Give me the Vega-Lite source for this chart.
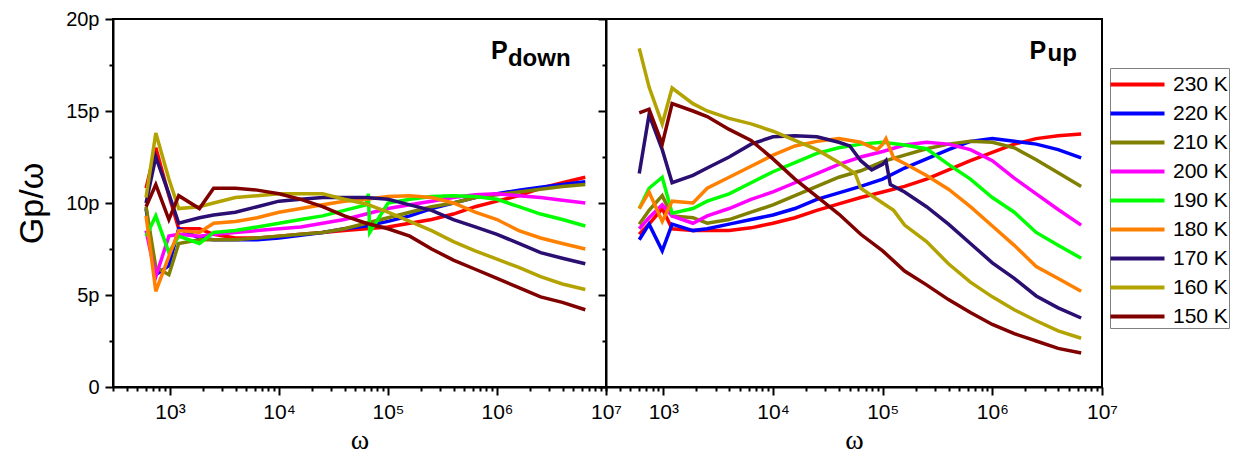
{
  "$schema": "https://vega.github.io/schema/vega-lite/v6.json",
  "background": "white",
  "padding": {"left": 14, "top": 8, "right": 0, "bottom": 0},
  "spacing": 0,
  "bounds": "flush",
  "resolve": {"scale": {"y": "shared", "color": "shared"}},
  "config": {
    "font": "Liberation Sans",
    "view": {"stroke": "black", "strokeWidth": 2},
    "axis": {"domainColor": "black", "domainWidth": 2, "tickColor": "black", "tickWidth": 2, "labelColor": "black", "titleColor": "black", "grid": false, "labelFont": "Liberation Sans", "labelOverlap": false, "labelBound": false, "labelFlush": false},
    "legend": {"labelFont": "Liberation Sans"}
  },
  "datasets": {
    "gp": [
      {"p":"d","w":603,"230 K":10.8,"220 K":9.7,"210 K":9.8,"200 K":8.5,"190 K":8.2,"180 K":9.3,"170 K":10.0,"160 K":10.3,"150 K":9.8},
      {"p":"d","w":741,"230 K":13.0,"220 K":6.1,"210 K":6.5,"200 K":6.0,"190 K":9.3,"180 K":5.2,"170 K":12.5,"160 K":13.8,"150 K":11.0},
      {"p":"d","w":977,"230 K":10.4,"220 K":6.6,"210 K":6.1,"200 K":8.2,"190 K":7.3,"180 K":7.1,"170 K":10.5,"160 K":11.3,"150 K":9.1},
      {"p":"d","w":1202,"230 K":8.6,"220 K":8.6,"210 K":7.8,"200 K":8.3,"190 K":8.2,"180 K":8.5,"170 K":8.9,"160 K":9.7,"150 K":10.4},
      {"p":"d","w":1862,"230 K":8.6,"220 K":8.1,"210 K":8.0,"200 K":8.2,"190 K":7.8,"180 K":8.4,"170 K":9.2,"160 K":9.8,"150 K":9.7},
      {"p":"d","w":2512,"230 K":8.3,"220 K":8.0,"210 K":8.0,"200 K":8.3,"190 K":8.4,"180 K":8.9,"170 K":9.35,"160 K":10.0,"150 K":10.8},
      {"p":"d","w":3981,"230 K":8.1,"220 K":8.0,"210 K":8.0,"200 K":8.4,"190 K":8.5,"180 K":9.0,"170 K":9.5,"160 K":10.3,"150 K":10.8},
      {"p":"d","w":6310,"230 K":8.1,"220 K":8.0,"210 K":8.1,"200 K":8.5,"190 K":8.7,"180 K":9.2,"170 K":9.8,"160 K":10.4,"150 K":10.7},
      {"p":"d","w":10000,"230 K":8.2,"220 K":8.1,"210 K":8.2,"200 K":8.6,"190 K":8.9,"180 K":9.5,"170 K":10.1,"160 K":10.5,"150 K":10.5},
      {"p":"d","w":15849,"230 K":8.3,"220 K":8.25,"210 K":8.3,"200 K":8.7,"190 K":9.1,"180 K":9.7,"170 K":10.2,"160 K":10.5,"150 K":10.2},
      {"p":"d","w":25119,"230 K":8.4,"220 K":8.4,"210 K":8.4,"200 K":8.9,"190 K":9.3,"180 K":9.9,"170 K":10.3,"160 K":10.5,"150 K":9.8},
      {"p":"d","w":39811,"230 K":8.5,"220 K":8.6,"210 K":8.6,"200 K":9.1,"190 K":9.6,"180 K":10.1,"170 K":10.3,"160 K":10.2,"150 K":9.3},
      {"p":"d","w":63096,"230 K":8.6,"220 K":8.75,"210 K":8.9,"200 K":9.4,"190 K":9.9,"180 K":10.2,"170 K":10.3,"160 K":9.95,"150 K":8.9},
      {"p":"d","w":100000,"230 K":8.7,"220 K":9.0,"210 K":9.2,"200 K":9.7,"190 K":10.0,"180 K":10.35,"170 K":10.2,"160 K":9.5,"150 K":8.6},
      {"p":"d","w":158489,"230 K":8.9,"220 K":9.3,"210 K":9.5,"200 K":9.9,"190 K":10.2,"180 K":10.4,"170 K":9.9,"160 K":9.0,"150 K":8.2},
      {"p":"d","w":251189,"230 K":9.1,"220 K":9.7,"210 K":9.8,"200 K":10.1,"190 K":10.35,"180 K":10.3,"170 K":9.6,"160 K":8.5,"150 K":7.5},
      {"p":"d","w":398107,"230 K":9.4,"220 K":10.0,"210 K":10.0,"200 K":10.3,"190 K":10.4,"180 K":10.0,"170 K":9.1,"160 K":7.9,"150 K":6.9},
      {"p":"d","w":630957,"230 K":9.8,"220 K":10.3,"210 K":10.3,"200 K":10.45,"190 K":10.35,"180 K":9.5,"170 K":8.7,"160 K":7.4,"150 K":6.4},
      {"p":"d","w":1000000,"230 K":10.1,"220 K":10.5,"210 K":10.45,"200 K":10.5,"190 K":10.2,"180 K":9.1,"170 K":8.3,"160 K":6.95,"150 K":5.9},
      {"p":"d","w":1584893,"230 K":10.4,"220 K":10.7,"210 K":10.6,"200 K":10.4,"190 K":9.8,"180 K":8.5,"170 K":7.8,"160 K":6.5,"150 K":5.4},
      {"p":"d","w":2511886,"230 K":10.8,"220 K":10.85,"210 K":10.75,"200 K":10.3,"190 K":9.4,"180 K":8.1,"170 K":7.3,"160 K":6.0,"150 K":4.9},
      {"p":"d","w":3981072,"230 K":11.1,"220 K":11.0,"210 K":10.9,"200 K":10.15,"190 K":9.1,"180 K":7.8,"170 K":7.0,"160 K":5.6,"150 K":4.6},
      {"p":"d","w":6456542,"230 K":11.4,"220 K":11.15,"210 K":11.0,"200 K":10.0,"190 K":8.75,"180 K":7.5,"170 K":6.7,"160 K":5.3,"150 K":4.2},
      {"p":"d","w":66000,"190 K":10.5},
      {"p":"d","w":68000,"190 K":8.4},
      {"p":"u","w":603,"230 K":8.3,"220 K":8.0,"210 K":8.85,"200 K":8.6,"190 K":9.7,"180 K":9.7,"170 K":11.6,"160 K":18.4,"150 K":14.9},
      {"p":"u","w":741,"230 K":8.85,"220 K":8.85,"210 K":9.6,"200 K":9.2,"190 K":10.8,"180 K":10.6,"170 K":14.8,"160 K":16.3,"150 K":15.1},
      {"p":"u","w":977,"230 K":9.7,"220 K":7.4,"210 K":10.4,"200 K":9.9,"190 K":11.4,"180 K":9.0,"170 K":12.9,"160 K":14.3,"150 K":13.2},
      {"p":"u","w":1202,"230 K":8.6,"220 K":8.85,"210 K":9.3,"200 K":9.3,"190 K":9.45,"180 K":10.1,"170 K":11.1,"160 K":16.25,"150 K":15.4},
      {"p":"u","w":1862,"230 K":8.5,"220 K":8.5,"210 K":9.2,"200 K":8.9,"190 K":9.7,"180 K":10.0,"170 K":11.5,"160 K":15.4,"150 K":15.0},
      {"p":"u","w":2512,"230 K":8.5,"220 K":8.6,"210 K":8.9,"200 K":9.3,"190 K":10.1,"180 K":10.8,"170 K":11.9,"160 K":15.0,"150 K":14.7},
      {"p":"u","w":3981,"230 K":8.5,"220 K":8.85,"210 K":9.1,"200 K":9.7,"190 K":10.5,"180 K":11.4,"170 K":12.5,"160 K":14.6,"150 K":14.0},
      {"p":"u","w":6310,"230 K":8.65,"220 K":9.1,"210 K":9.5,"200 K":10.2,"190 K":11.1,"180 K":12.0,"170 K":13.2,"160 K":14.3,"150 K":13.4},
      {"p":"u","w":10000,"230 K":8.9,"220 K":9.35,"210 K":9.9,"200 K":10.6,"190 K":11.7,"180 K":12.6,"170 K":13.6,"160 K":13.9,"150 K":12.4},
      {"p":"u","w":15849,"230 K":9.2,"220 K":9.7,"210 K":10.4,"200 K":11.1,"190 K":12.2,"180 K":13.1,"170 K":13.65,"160 K":13.4,"150 K":11.3},
      {"p":"u","w":25119,"230 K":9.6,"220 K":10.2,"210 K":10.9,"200 K":11.6,"190 K":12.7,"180 K":13.35,"170 K":13.6,"160 K":12.9,"150 K":10.35},
      {"p":"u","w":39811,"230 K":9.95,"220 K":10.55,"210 K":11.4,"200 K":12.1,"190 K":13.0,"180 K":13.5,"170 K":13.3,"160 K":12.2,"150 K":9.4},
      {"p":"u","w":63096,"230 K":10.3,"220 K":10.9,"210 K":11.75,"200 K":12.5,"190 K":13.2,"180 K":13.3,"170 K":12.3,"160 K":10.8,"150 K":8.3},
      {"p":"u","w":100000,"230 K":10.6,"220 K":11.3,"210 K":12.25,"200 K":12.8,"190 K":13.3,"180 K":13.2,"170 K":12.1,"160 K":10.0,"150 K":7.4},
      {"p":"u","w":158489,"230 K":10.9,"220 K":11.9,"210 K":12.6,"200 K":13.15,"190 K":13.15,"180 K":12.15,"170 K":10.6,"160 K":8.8,"150 K":6.3},
      {"p":"u","w":251189,"230 K":11.3,"220 K":12.4,"210 K":12.95,"200 K":13.3,"190 K":12.95,"180 K":11.5,"170 K":9.8,"160 K":7.9,"150 K":5.55},
      {"p":"u","w":398107,"230 K":11.8,"220 K":12.9,"210 K":13.2,"200 K":13.2,"190 K":12.1,"180 K":10.75,"170 K":8.85,"160 K":6.7,"150 K":4.75},
      {"p":"u","w":630957,"230 K":12.3,"220 K":13.35,"210 K":13.35,"200 K":12.9,"190 K":11.3,"180 K":9.8,"170 K":7.8,"160 K":5.7,"150 K":4.05},
      {"p":"u","w":1000000,"230 K":12.75,"220 K":13.5,"210 K":13.3,"200 K":12.3,"190 K":10.3,"180 K":8.75,"170 K":6.75,"160 K":4.9,"150 K":3.4},
      {"p":"u","w":1584893,"230 K":13.2,"220 K":13.35,"210 K":13.0,"200 K":11.35,"190 K":9.5,"180 K":7.7,"170 K":5.9,"160 K":4.2,"150 K":2.9},
      {"p":"u","w":2511886,"230 K":13.5,"220 K":13.2,"210 K":12.35,"200 K":10.5,"190 K":8.4,"180 K":6.55,"170 K":4.95,"160 K":3.6,"150 K":2.5},
      {"p":"u","w":3981072,"230 K":13.65,"220 K":12.9,"210 K":11.65,"200 K":9.65,"190 K":7.7,"180 K":5.9,"170 K":4.3,"160 K":3.05,"150 K":2.1},
      {"p":"u","w":6456542,"230 K":13.75,"220 K":12.45,"210 K":10.9,"200 K":8.8,"190 K":7.0,"180 K":5.2,"170 K":3.75,"160 K":2.65,"150 K":1.85},
      {"p":"u","w":50119,"170 K":13.1},
      {"p":"u","w":79433,"170 K":11.8},
      {"p":"u","w":107152,"170 K":12.3,"180 K":13.5},
      {"p":"u","w":117490,"170 K":11.0},
      {"p":"u","w":89125,"180 K":12.9},
      {"p":"u","w":125893,"180 K":12.45,"160 K":9.6},
      {"p":"u","w":56234,"160 K":11.6}
    ]
  },
  "hconcat": [
    {
      "width": 493,
      "height": 368,
      "layer": [
        {
          "data": {"name": "gp"},
          "transform": [
            {"filter": "datum.p == 'd'"},
            {"fold": ["230 K","220 K","210 K","200 K","190 K","180 K","170 K","160 K","150 K"], "as": ["T","g"]},
            {"filter": "isValid(datum.g)"}
          ],
          "mark": {"type": "line", "strokeWidth": 3.5, "clip": true},
          "encoding": {
            "x": {"field": "w", "type": "quantitative", "title": "ω",
              "scale": {"type": "log", "domain": [300, 10000000]},
              "axis": {
                "values": [300,400,500,600,700,800,900,1000,2000,3000,4000,5000,6000,7000,8000,9000,10000,20000,30000,40000,50000,60000,70000,80000,90000,100000,200000,300000,400000,500000,600000,700000,800000,900000,1000000,2000000,3000000,4000000,5000000,6000000,7000000,8000000,9000000,10000000],
                "labelExpr": "abs(log(datum.value)/LN10 - round(log(datum.value)/LN10)) < 0.001 ? '10' + ['⁰','¹','²','³','⁴','⁵','⁶','⁷'][round(log(datum.value)/LN10)] : ''",
                "tickSize": {"condition": {"test": "abs(log(datum.value)/LN10 - round(log(datum.value)/LN10)) < 0.001", "value": 8}, "value": 4},
                "labelFontSize": 21, "labelPadding": 6,
                "titleFont": "Liberation Serif", "titleFontSize": 28, "titleFontWeight": "normal", "titlePadding": 4
              }
            },
            "y": {"field": "g", "type": "quantitative", "title": "Gp/ω",
              "scale": {"domain": [0, 20]},
              "axis": {
                "values": [0,2.5,5,7.5,10,12.5,15,17.5,20],
                "labelExpr": "datum.value % 5 == 0 ? (datum.value == 0 ? '0' : datum.value + 'p') : ''",
                "tickSize": {"condition": {"test": "datum.value % 5 == 0", "value": 8}, "value": 4},
                "labelFontSize": 20, "labelPadding": 6,
                "titleFontSize": 34, "titleFontWeight": "normal", "titlePadding": 16
              }
            },
            "color": {"field": "T", "type": "nominal",
              "scale": {"domain": ["230 K","220 K","210 K","200 K","190 K","180 K","170 K","160 K","150 K"],
                "range": ["#ff0000","#0000ff","#808000","#ff00ff","#00ff00","#ff8000","#2a0e72","#b3a300","#800000"]},
              "legend": {"orient": "none", "legendX": 997, "legendY": 49, "title": null, "symbolType": "M-2,0H2", "symbolStrokeWidth": 4, "symbolSize": 729, "symbolOffset": 11, "labelOffset": 20, "labelFontSize": 21, "strokeColor": "#808080", "padding": 1, "rowPadding": 3}
            }
          }
        },
        {
          "data": {"values": [{"w": 883000, "g": 17.83, "t": "P"}]},
          "mark": {"type": "text", "align": "left", "baseline": "alphabetic", "fontSize": 25, "fontWeight": "bold", "color": "black"},
          "encoding": {
            "x": {"field": "w", "type": "quantitative", "scale": {"type": "log", "domain": [300, 10000000]}},
            "y": {"field": "g", "type": "quantitative", "scale": {"domain": [0, 20]}},
            "text": {"field": "t"}
          }
        },
        {
          "data": {"values": [{"w": 1260000, "g": 17.45, "t": "down"}]},
          "mark": {"type": "text", "align": "left", "baseline": "alphabetic", "fontSize": 24, "fontWeight": "bold", "color": "black"},
          "encoding": {
            "x": {"field": "w", "type": "quantitative", "scale": {"type": "log", "domain": [300, 10000000]}},
            "y": {"field": "g", "type": "quantitative", "scale": {"domain": [0, 20]}},
            "text": {"field": "t"}
          }
        }
      ]
    },
    {
      "width": 496,
      "height": 368,
      "layer": [
        {
          "data": {"name": "gp"},
          "transform": [
            {"filter": "datum.p == 'u'"},
            {"fold": ["230 K","220 K","210 K","200 K","190 K","180 K","170 K","160 K","150 K"], "as": ["T","g"]},
            {"filter": "isValid(datum.g)"}
          ],
          "mark": {"type": "line", "strokeWidth": 3.5, "clip": true},
          "encoding": {
            "x": {"field": "w", "type": "quantitative", "title": "ω",
              "scale": {"type": "log", "domain": [300, 10000000]},
              "axis": {
                "values": [300,400,500,600,700,800,900,1000,2000,3000,4000,5000,6000,7000,8000,9000,10000,20000,30000,40000,50000,60000,70000,80000,90000,100000,200000,300000,400000,500000,600000,700000,800000,900000,1000000,2000000,3000000,4000000,5000000,6000000,7000000,8000000,9000000,10000000],
                "labelExpr": "abs(log(datum.value)/LN10 - round(log(datum.value)/LN10)) < 0.001 ? '10' + ['⁰','¹','²','³','⁴','⁵','⁶','⁷'][round(log(datum.value)/LN10)] : ''",
                "tickSize": {"condition": {"test": "abs(log(datum.value)/LN10 - round(log(datum.value)/LN10)) < 0.001", "value": 8}, "value": 4},
                "labelFontSize": 21, "labelPadding": 6,
                "titleFont": "Liberation Serif", "titleFontSize": 28, "titleFontWeight": "normal", "titlePadding": 4
              }
            },
            "y": {"field": "g", "type": "quantitative", "title": null,
              "scale": {"domain": [0, 20]},
              "axis": {
                "values": [0,2.5,5,7.5,10,12.5,15,17.5,20],
                "labels": false,
                "tickSize": {"condition": {"test": "datum.value % 5 == 0", "value": 8}, "value": 4}
              }
            },
            "color": {"field": "T", "type": "nominal",
              "scale": {"domain": ["230 K","220 K","210 K","200 K","190 K","180 K","170 K","160 K","150 K"],
                "range": ["#ff0000","#0000ff","#808000","#ff00ff","#00ff00","#ff8000","#2a0e72","#b3a300","#800000"]},
              "legend": {"orient": "none", "legendX": 997, "legendY": 49, "title": null, "symbolType": "M-2,0H2", "symbolStrokeWidth": 4, "symbolSize": 729, "symbolOffset": 11, "labelOffset": 20, "labelFontSize": 21, "strokeColor": "#808080", "padding": 1, "rowPadding": 3}
            }
          }
        },
        {
          "data": {"values": [{"w": 2180000, "g": 17.83, "t": "P"}]},
          "mark": {"type": "text", "align": "left", "baseline": "alphabetic", "fontSize": 25, "fontWeight": "bold", "color": "black"},
          "encoding": {
            "x": {"field": "w", "type": "quantitative", "scale": {"type": "log", "domain": [300, 10000000]}},
            "y": {"field": "g", "type": "quantitative", "scale": {"domain": [0, 20]}},
            "text": {"field": "t"}
          }
        },
        {
          "data": {"values": [{"w": 3190000, "g": 17.72, "t": "up"}]},
          "mark": {"type": "text", "align": "left", "baseline": "alphabetic", "fontSize": 24, "fontWeight": "bold", "color": "black"},
          "encoding": {
            "x": {"field": "w", "type": "quantitative", "scale": {"type": "log", "domain": [300, 10000000]}},
            "y": {"field": "g", "type": "quantitative", "scale": {"domain": [0, 20]}},
            "text": {"field": "t"}
          }
        }
      ]
    }
  ]
}
